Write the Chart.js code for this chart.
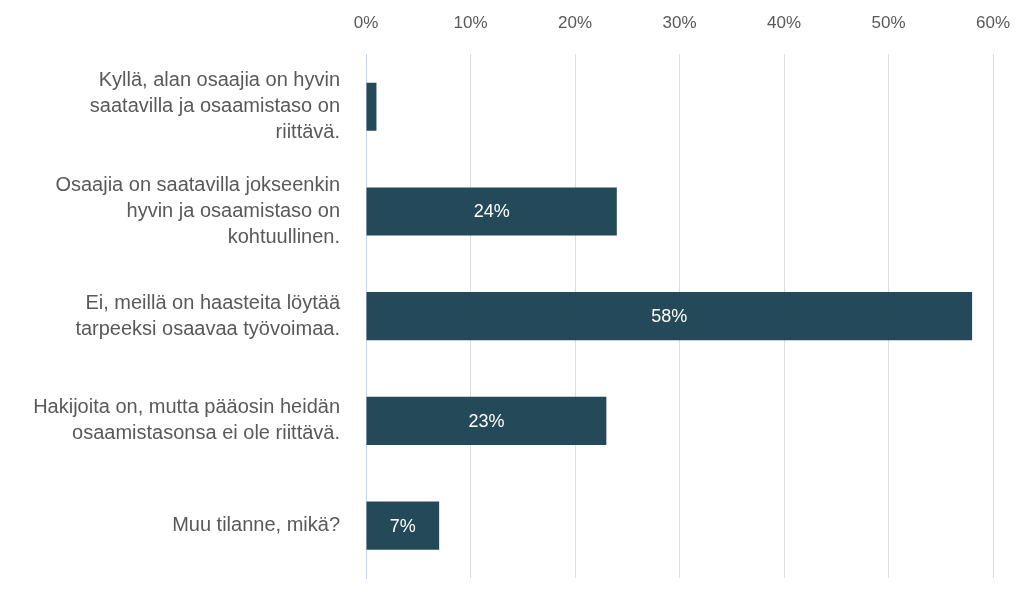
<!DOCTYPE html>
<html>
<head>
<meta charset="utf-8">
<script src="https://cdn.jsdelivr.net/npm/chart.js@4"></script>
<style>
  body { margin: 0; background: #fff; overflow: hidden; }
  canvas { display: block; }
</style>
</head>
<body>
<canvas id="osaajatChart" width="1023" height="598"></canvas>
<script>
// categories (multi-line labels) and shares in percent
const categories = [
    ['Kyllä, alan osaajia on hyvin', 'saatavilla ja osaamistaso on', 'riittävä.'],
    ['Osaajia on saatavilla jokseenkin', 'hyvin ja osaamistaso on', 'kohtuullinen.'],
    ['Ei, meillä on haasteita löytää', 'tarpeeksi osaavaa työvoimaa.'],
    ['Hakijoita on, mutta pääosin heidän', 'osaamistasonsa ei ole riittävä.'],
    ['Muu tilanne, mikä?']
];
const shares = [1, 24, 58, 23, 7];
const tickValues = [0, 10, 20, 30, 40, 50, 60];

const textGray = '#595959';
const barColor = '#244a59';
const fontFamily = '"Liberation Sans", Arial, sans-serif';

// white value labels inside the bars
const barLabels = {
    id: 'barLabels',
    afterDatasetsDraw(chart) {
        const ctx = chart.ctx;
        const meta = chart.getDatasetMeta(0);
        ctx.save();
        ctx.fillStyle = '#ffffff';
        ctx.font = '18px ' + fontFamily;
        ctx.textAlign = 'center';
        ctx.textBaseline = 'middle';
        meta.data.forEach((bar, i) => {
            if (shares[i] < 5) return;
            const x = (bar.base + bar.x) / 2;
            ctx.fillText(shares[i] + '%', x, bar.y + 1);
        });
        ctx.restore();
    }
};

var ctx = document.getElementById('osaajatChart').getContext('2d');
const osaajatChart = new Chart(ctx, {
    type: 'bar',
    data: {
        labels: categories,
        datasets: [{
            data: shares,
            backgroundColor: barColor,
            barPercentage: 0.46,
            categoryPercentage: 1.0
        }]
    },
    options: {
        indexAxis: 'y',
        responsive: false,
        animation: false,
        layout: { padding: { top: -8, right: 30, bottom: 20, left: 0 } },
        plugins: {
            legend: { display: false },
            tooltip: { enabled: false }
        },
        scales: {
            x: {
                position: 'top',
                min: 0,
                max: 60,
                afterBuildTicks: (s) => { s.ticks = tickValues.map(v => ({ value: v })); },
                afterFit: (s) => { s.paddingLeft = 0; s.paddingRight = 0; },
                grid: { color: '#dcdcdc', drawTicks: false },
                border: { display: false },
                ticks: {
                    color: textGray,
                    padding: 21,
                    font: { size: 17, family: fontFamily },
                    callback: (v) => v + '%'
                }
            },
            y: {
                grid: { display: false },
                border: { color: '#c9d3e3' },
                afterFit: (s) => { s.width = 366; s.paddingTop = 0; s.paddingBottom = 0; },
                ticks: {
                    color: textGray,
                    padding: 18,
                    font: { size: 20, family: fontFamily, lineHeight: 1.3 }
                }
            }
        }
    },
    plugins: [barLabels]
});
</script>
</body>
</html>
